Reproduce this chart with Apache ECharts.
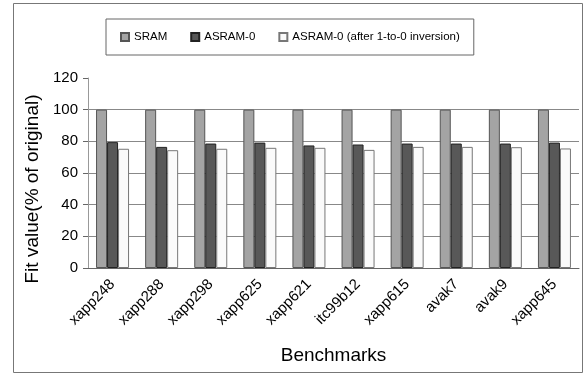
<!DOCTYPE html>
<html>
<head>
<meta charset="utf-8">
<script src="https://cdn.jsdelivr.net/npm/echarts@6/dist/echarts.min.js"></script>
<style>
  html, body { margin: 0; padding: 0; background: #fff; }
  #chart { width: 587px; height: 375px; }
</style>
</head>
<body>
<div id="chart"></div>
<script>
const benchmarks = ['xapp248', 'xapp288', 'xapp298', 'xapp625', 'xapp621', 'itc99b12', 'xapp615', 'avak7', 'avak9', 'xapp645']
const sram = [100, 100, 100, 100, 100, 100, 100, 100, 100, 100]
const asram0 = [79.5, 76.5, 78.6, 79.2, 77.4, 78.0, 78.6, 78.6, 78.6, 79.2]
const asram0Inv = [75.3, 74.4, 75.3, 75.9, 75.9, 74.6, 76.5, 76.5, 76.3, 75.5]

const font = 'Liberation Sans, Arial, sans-serif'
const chart = echarts.init(document.getElementById('chart'))

chart.setOption({
  animation: false,
  textStyle: { fontFamily: font },
  graphic: [
    {
      type: 'rect',
      shape: { x: 13.5, y: 3.5, width: 569, height: 369 },
      style: { fill: 'none', stroke: '#777', lineWidth: 1 }
    }
  ],
  legend: {
    left: 106,
    top: 19,
    padding: [12, 14, 12, 14],
    borderColor: '#666',
    borderWidth: 1,
    itemWidth: 8,
    itemHeight: 8,
    itemGap: 23,
    icon: 'rect',
    textStyle: { fontSize: 11.5, color: '#000', fontFamily: font },
    data: ['SRAM', 'ASRAM-0', 'ASRAM-0 (after 1-to-0 inversion)']
  },
  grid: {
    left: 88,
    right: 8,
    top: 78,
    bottom: 107
  },
  xAxis: {
    type: 'category',
    data: benchmarks,
    name: 'Benchmarks',
    nameLocation: 'middle',
    nameGap: 78,
    nameTextStyle: { fontSize: 19, color: '#000' },
    axisLine: { lineStyle: { color: '#666' } },
    axisTick: { length: 4, lineStyle: { color: '#444' } },
    axisLabel: { rotate: 45, fontSize: 15, color: '#000', margin: 14 }
  },
  yAxis: {
    type: 'value',
    min: 0,
    max: 120,
    interval: 20,
    name: 'Fit value(% of original)',
    nameLocation: 'middle',
    nameGap: 43,
    nameTextStyle: { fontSize: 19, color: '#000', padding: [0, 32, 0, 0] },
    axisLine: { show: true, lineStyle: { color: '#999' } },
    axisTick: { show: true, length: 5, lineStyle: { color: '#666' } },
    axisLabel: { fontSize: 15, color: '#000', margin: 10 },
    splitLine: {
      lineStyle: { color: ['#888', '#888', '#888', '#888', '#888', '#888', 'transparent'] }
    }
  },
  series: [
    {
      name: 'SRAM',
      type: 'bar',
      data: sram,
      barWidth: 11,
      barGap: '0%',
      itemStyle: { color: '#a4a4a4', borderColor: '#555', borderWidth: 1 }
    },
    {
      name: 'ASRAM-0',
      type: 'bar',
      data: asram0,
      barWidth: 11,
      barGap: '0%',
      itemStyle: { color: '#585858', borderColor: '#222', borderWidth: 1 }
    },
    {
      name: 'ASRAM-0 (after 1-to-0 inversion)',
      type: 'bar',
      data: asram0Inv,
      barWidth: 11,
      barGap: '0%',
      itemStyle: { color: '#fafafa', borderColor: '#777', borderWidth: 1 }
    }
  ]
})
</script>
</body>
</html>
